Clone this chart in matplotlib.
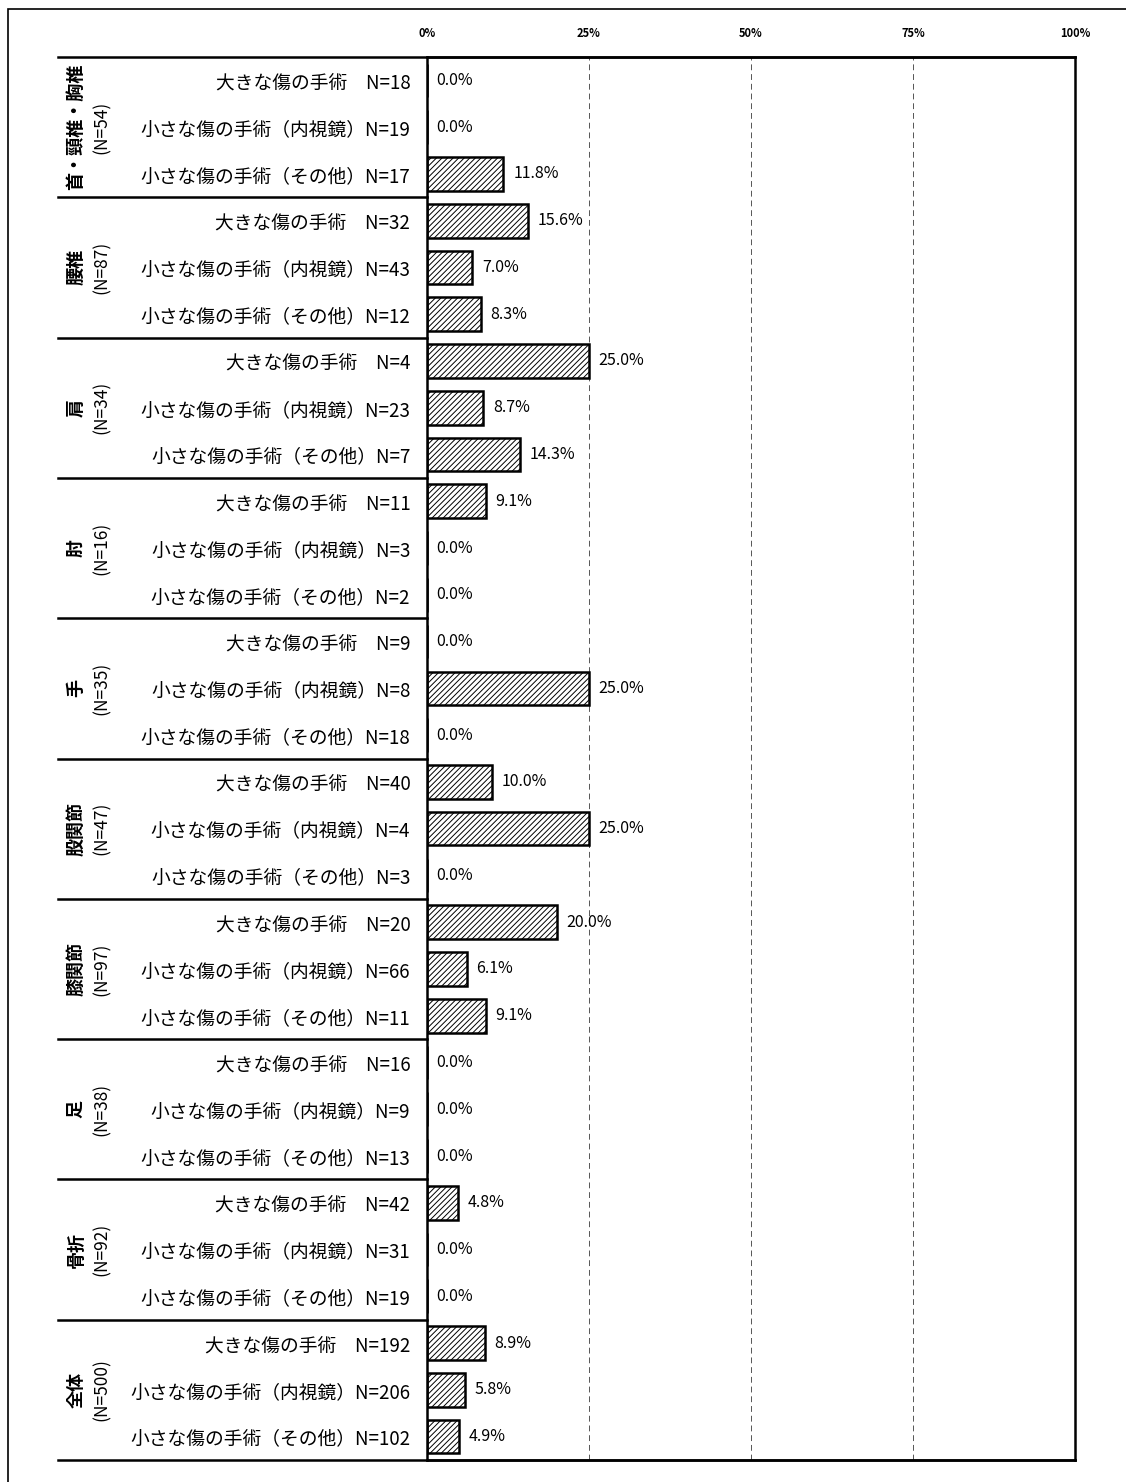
import matplotlib.pyplot as plt
from matplotlib.patches import Rectangle

plt.rcParams['font.family'] = ['Noto Sans CJK JP', 'DejaVu Sans']
plt.rcParams['hatch.linewidth'] = 0.7

groups = ['首・頸椎・胸椎', '腰椎', '肩', '肘', '手', '股関節', '膝関節', '足', '骨折', '全体']
group_n = [54, 87, 34, 16, 35, 47, 97, 38, 92, 500]
types = ['大きな傷の手術　', '小さな傷の手術（内視鏡）', '小さな傷の手術（その他）']
counts = [
    [18, 19, 17],
    [32, 43, 12],
    [4, 23, 7],
    [11, 3, 2],
    [9, 8, 18],
    [40, 4, 3],
    [20, 66, 11],
    [16, 9, 13],
    [42, 31, 19],
    [192, 206, 102],
]
values = [
    [0.0, 0.0, 11.8],
    [15.6, 7.0, 8.3],
    [25.0, 8.7, 14.3],
    [9.1, 0.0, 0.0],
    [0.0, 25.0, 0.0],
    [10.0, 25.0, 0.0],
    [20.0, 6.1, 9.1],
    [0.0, 0.0, 0.0],
    [4.8, 0.0, 0.0],
    [8.9, 5.8, 4.9],
]
xticks = [0, 25, 50, 75, 100]

W, H = 1126, 1482
fig = plt.figure(figsize=(W / 100, H / 100), dpi=100)
ax = fig.add_axes([427 / W, 1 - 1460 / H, (1075 - 427) / W, (1460 - 57) / H])

# outer frame
fig.patches.append(Rectangle((8 / W, -0.1), 1.2, 1 - 9 / H + 0.1, transform=fig.transFigure,
                             fill=False, edgecolor='black', linewidth=1.2))

row_labels = []
row_vals = []
for g in range(len(groups)):
    for k in range(3):
        row_labels.append(f'{types[k]}N={counts[g][k]}')
        row_vals.append(values[g][k])
ypos = list(range(len(row_vals)))

for x in xticks[1:-1]:
    ax.axvline(x, color='#555555', linestyle=(0, (6, 4)), linewidth=0.7, zorder=0)

ax.barh(ypos, row_vals, height=0.72, color='white', edgecolor='black',
        linewidth=1.8, hatch='//////', zorder=2)

for y, v in zip(ypos, row_vals):
    ax.annotate(f'{v:.1f}%', (v, y), xytext=(7, 0), textcoords='offset points',
                va='center', ha='left', fontsize=11.5)

ax.set_xlim(0, 100)
ax.set_ylim(len(row_vals) - 0.5, -0.5)
ax.set_yticks(ypos)
ax.set_yticklabels(row_labels, fontsize=13.5)
ax.tick_params(axis='y', length=0, pad=12)
ax.xaxis.tick_top()
ax.set_xticks(xticks)
ax.set_xticklabels([f'{x}%' for x in xticks], fontsize=8, fontweight='bold')
ax.tick_params(axis='x', length=0, pad=12)
for s in ax.spines.values():
    s.set_linewidth(1.8)

# group separators and labels
left = (58 - 427) / (1075 - 427)
trans = ax.get_yaxis_transform()
for b in [-0.5, len(row_vals) - 0.5]:
    ax.plot([left, 1], [b, b], transform=trans, color='black', linewidth=1.8, clip_on=False)
for g in range(1, len(groups)):
    b = g * 3 - 0.5
    ax.plot([left, 0], [b, b], transform=trans, color='black', linewidth=1.8, clip_on=False)
name_x = (76 - 427) / (1075 - 427)
n_x = (102 - 427) / (1075 - 427)
for g, (name, n) in enumerate(zip(groups, group_n)):
    ax.text(name_x, g * 3 + 1, name, transform=trans, rotation=90,
            ha='center', va='center', fontsize=13, fontweight='bold')
    ax.text(n_x, g * 3 + 1, f'(N={n})', transform=trans, rotation=90,
            ha='center', va='center', fontsize=12.5)

fig.savefig('out.png', dpi=100)
